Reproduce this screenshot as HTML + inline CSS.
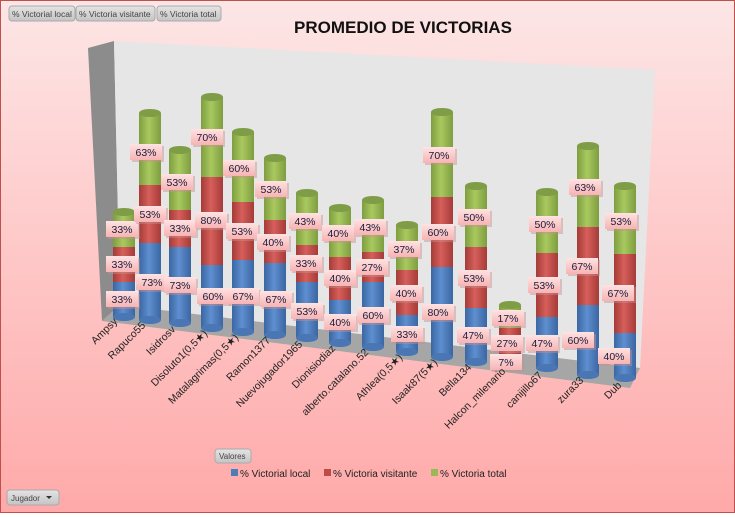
<!DOCTYPE html>
<html><head><meta charset="utf-8"><style>
html,body{margin:0;padding:0}
body{width:735px;height:513px;overflow:hidden;font-family:"Liberation Sans",sans-serif}
</style></head><body>
<svg width="735" height="513" viewBox="0 0 735 513" xmlns="http://www.w3.org/2000/svg" font-family="Liberation Sans, sans-serif">
<defs>
<linearGradient id="bg" x1="0" y1="0" x2="0" y2="1"><stop offset="0" stop-color="#fde6e6"/><stop offset="1" stop-color="#ffa9a9"/></linearGradient>
<linearGradient id="gb" x1="0" x2="1"><stop offset="0" stop-color="#3a66a2"/><stop offset="0.45" stop-color="#5f8fd0"/><stop offset="1" stop-color="#3a66a2"/></linearGradient>
<linearGradient id="gr" x1="0" x2="1"><stop offset="0" stop-color="#a53b38"/><stop offset="0.45" stop-color="#d65f5b"/><stop offset="1" stop-color="#a53b38"/></linearGradient>
<linearGradient id="gg" x1="0" x2="1"><stop offset="0" stop-color="#7e9d40"/><stop offset="0.45" stop-color="#a9c95f"/><stop offset="1" stop-color="#7e9d40"/></linearGradient>
<linearGradient id="lb" x1="0" y1="0" x2="0" y2="1"><stop offset="0" stop-color="#ffe2e2"/><stop offset="1" stop-color="#f7b3b3"/></linearGradient>
<linearGradient id="btn" x1="0" y1="0" x2="0" y2="1"><stop offset="0" stop-color="#e4e4e4"/><stop offset="1" stop-color="#c4c4c4"/></linearGradient>
<g id="lbl"><rect x="-14" y="-6" width="32" height="16" fill="#c89090" opacity="0.45"/><rect x="-16" y="-8" width="32" height="16" fill="url(#lb)"/></g>
</defs>
<rect x="0" y="0" width="735" height="513" fill="url(#bg)" stroke="#c0504d" stroke-width="2"/>
<!-- buttons -->
<g font-size="8.5" fill="#444">
<rect x="9" y="6" width="66" height="15" rx="3" fill="url(#btn)" stroke="#aaa"/><text x="12" y="17">% Victorial local</text>
<rect x="76" y="6" width="79" height="15" rx="3" fill="url(#btn)" stroke="#aaa"/><text x="79" y="17">% Victoria visitante</text>
<rect x="157" y="6" width="64" height="15" rx="3" fill="url(#btn)" stroke="#aaa"/><text x="160" y="17">% Victoria total</text>
<rect x="215" y="449" width="36" height="14" rx="3" fill="url(#btn)" stroke="#aaa"/><text x="219" y="459" font-size="8">Valores</text>
<rect x="7" y="490" width="52" height="15" rx="3" fill="url(#btn)" stroke="#aaa"/><text x="11" y="501" font-size="8">Jugador</text><path d="M46 496 L52 496 L49 499 Z" fill="#333"/>
</g>
<text x="403" y="33" font-size="17" font-weight="bold" text-anchor="middle" fill="#111">PROMEDIO DE VICTORIAS</text>
<!-- walls -->
<polygon points="88,48 114,41 120,305 102,321" fill="#8c8c8c"/>
<polygon points="114,41 655,70 640,368 120,305" fill="#e6e6e6"/>
<polygon points="120,305 640,368 630,388 102,321" fill="#a6a6a6"/>
<!-- bars -->
<g id="bars">
<g transform="translate(124,0)"><rect x="-11" y="282" width="22" height="35" fill="url(#gb)"/><ellipse cy="317" rx="11" ry="4" fill="#4a76b3"/><rect x="-11" y="247" width="22" height="35" fill="url(#gr)"/><rect x="-11" y="212" width="22" height="35" fill="url(#gg)"/><ellipse cy="212" rx="11" ry="4" fill="#7f9c46"/></g>
<g transform="translate(150,0)"><rect x="-11" y="243" width="22" height="77" fill="url(#gb)"/><ellipse cy="320" rx="11" ry="4" fill="#4a76b3"/><rect x="-11" y="185" width="22" height="58" fill="url(#gr)"/><rect x="-11" y="113" width="22" height="72" fill="url(#gg)"/><ellipse cy="113" rx="11" ry="4" fill="#7f9c46"/></g>
<g transform="translate(180,0)"><rect x="-11" y="247" width="22" height="76" fill="url(#gb)"/><ellipse cy="323" rx="11" ry="4" fill="#4a76b3"/><rect x="-11" y="210" width="22" height="37" fill="url(#gr)"/><rect x="-11" y="150" width="22" height="60" fill="url(#gg)"/><ellipse cy="150" rx="11" ry="4" fill="#7f9c46"/></g>
<g transform="translate(212,0)"><rect x="-11" y="265" width="22" height="63" fill="url(#gb)"/><ellipse cy="328" rx="11" ry="4" fill="#4a76b3"/><rect x="-11" y="177" width="22" height="88" fill="url(#gr)"/><rect x="-11" y="97" width="22" height="80" fill="url(#gg)"/><ellipse cy="97" rx="11" ry="4" fill="#7f9c46"/></g>
<g transform="translate(243,0)"><rect x="-11" y="260" width="22" height="72" fill="url(#gb)"/><ellipse cy="332" rx="11" ry="4" fill="#4a76b3"/><rect x="-11" y="202" width="22" height="58" fill="url(#gr)"/><rect x="-11" y="132" width="22" height="70" fill="url(#gg)"/><ellipse cy="132" rx="11" ry="4" fill="#7f9c46"/></g>
<g transform="translate(275,0)"><rect x="-11" y="263" width="22" height="72" fill="url(#gb)"/><ellipse cy="335" rx="11" ry="4" fill="#4a76b3"/><rect x="-11" y="220" width="22" height="43" fill="url(#gr)"/><rect x="-11" y="158" width="22" height="62" fill="url(#gg)"/><ellipse cy="158" rx="11" ry="4" fill="#7f9c46"/></g>
<g transform="translate(307,0)"><rect x="-11" y="282" width="22" height="56" fill="url(#gb)"/><ellipse cy="338" rx="11" ry="4" fill="#4a76b3"/><rect x="-11" y="245" width="22" height="37" fill="url(#gr)"/><rect x="-11" y="193" width="22" height="52" fill="url(#gg)"/><ellipse cy="193" rx="11" ry="4" fill="#7f9c46"/></g>
<g transform="translate(340,0)"><rect x="-11" y="300" width="22" height="43" fill="url(#gb)"/><ellipse cy="343" rx="11" ry="4" fill="#4a76b3"/><rect x="-11" y="257" width="22" height="43" fill="url(#gr)"/><rect x="-11" y="208" width="22" height="49" fill="url(#gg)"/><ellipse cy="208" rx="11" ry="4" fill="#7f9c46"/></g>
<g transform="translate(373,0)"><rect x="-11" y="282" width="22" height="65" fill="url(#gb)"/><ellipse cy="347" rx="11" ry="4" fill="#4a76b3"/><rect x="-11" y="252" width="22" height="30" fill="url(#gr)"/><rect x="-11" y="200" width="22" height="52" fill="url(#gg)"/><ellipse cy="200" rx="11" ry="4" fill="#7f9c46"/></g>
<g transform="translate(407,0)"><rect x="-11" y="315" width="22" height="37" fill="url(#gb)"/><ellipse cy="352" rx="11" ry="4" fill="#4a76b3"/><rect x="-11" y="270" width="22" height="45" fill="url(#gr)"/><rect x="-11" y="225" width="22" height="45" fill="url(#gg)"/><ellipse cy="225" rx="11" ry="4" fill="#7f9c46"/></g>
<g transform="translate(442,0)"><rect x="-11" y="267" width="22" height="90" fill="url(#gb)"/><ellipse cy="357" rx="11" ry="4" fill="#4a76b3"/><rect x="-11" y="197" width="22" height="70" fill="url(#gr)"/><rect x="-11" y="112" width="22" height="85" fill="url(#gg)"/><ellipse cy="112" rx="11" ry="4" fill="#7f9c46"/></g>
<g transform="translate(476,0)"><rect x="-11" y="308" width="22" height="54" fill="url(#gb)"/><ellipse cy="362" rx="11" ry="4" fill="#4a76b3"/><rect x="-11" y="247" width="22" height="61" fill="url(#gr)"/><rect x="-11" y="186" width="22" height="61" fill="url(#gg)"/><ellipse cy="186" rx="11" ry="4" fill="#7f9c46"/></g>
<g transform="translate(510,0)"><rect x="-11" y="358" width="22" height="7" fill="url(#gb)"/><ellipse cy="365" rx="11" ry="4" fill="#4a76b3"/><rect x="-11" y="328" width="22" height="30" fill="url(#gr)"/><rect x="-11" y="305" width="22" height="23" fill="url(#gg)"/><ellipse cy="305" rx="11" ry="4" fill="#7f9c46"/></g>
<g transform="translate(547,0)"><rect x="-11" y="317" width="22" height="51" fill="url(#gb)"/><ellipse cy="368" rx="11" ry="4" fill="#4a76b3"/><rect x="-11" y="253" width="22" height="64" fill="url(#gr)"/><rect x="-11" y="192" width="22" height="61" fill="url(#gg)"/><ellipse cy="192" rx="11" ry="4" fill="#7f9c46"/></g>
<g transform="translate(588,0)"><rect x="-11" y="305" width="22" height="70" fill="url(#gb)"/><ellipse cy="375" rx="11" ry="4" fill="#4a76b3"/><rect x="-11" y="227" width="22" height="78" fill="url(#gr)"/><rect x="-11" y="146" width="22" height="81" fill="url(#gg)"/><ellipse cy="146" rx="11" ry="4" fill="#7f9c46"/></g>
<g transform="translate(625,0)"><rect x="-11" y="333" width="22" height="45" fill="url(#gb)"/><ellipse cy="378" rx="11" ry="4" fill="#4a76b3"/><rect x="-11" y="254" width="22" height="79" fill="url(#gr)"/><rect x="-11" y="186" width="22" height="68" fill="url(#gg)"/><ellipse cy="186" rx="11" ry="4" fill="#7f9c46"/></g>
</g>
<!-- labels -->
<g font-size="10.5" fill="#1a1a3a" text-anchor="middle">
<use href="#lbl" x="122" y="299"/><text x="122" y="303">33%</text><use href="#lbl" x="122" y="264"/><text x="122" y="268">33%</text><use href="#lbl" x="122" y="229"/><text x="122" y="233">33%</text>
<use href="#lbl" x="152" y="282"/><text x="152" y="286">73%</text><use href="#lbl" x="150" y="214"/><text x="150" y="218">53%</text><use href="#lbl" x="146" y="152"/><text x="146" y="156">63%</text>
<use href="#lbl" x="180" y="285"/><text x="180" y="289">73%</text><use href="#lbl" x="180" y="228"/><text x="180" y="232">33%</text><use href="#lbl" x="177" y="182"/><text x="177" y="186">53%</text>
<use href="#lbl" x="213" y="296"/><text x="213" y="300">60%</text><use href="#lbl" x="211" y="220"/><text x="211" y="224">80%</text><use href="#lbl" x="207" y="137"/><text x="207" y="141">70%</text>
<use href="#lbl" x="243" y="296"/><text x="243" y="300">67%</text><use href="#lbl" x="242" y="231"/><text x="242" y="235">53%</text><use href="#lbl" x="239" y="168"/><text x="239" y="172">60%</text>
<use href="#lbl" x="276" y="299"/><text x="276" y="303">67%</text><use href="#lbl" x="273" y="242"/><text x="273" y="246">40%</text><use href="#lbl" x="271" y="189"/><text x="271" y="193">53%</text>
<use href="#lbl" x="307" y="311"/><text x="307" y="315">53%</text><use href="#lbl" x="306" y="263"/><text x="306" y="267">33%</text><use href="#lbl" x="305" y="221"/><text x="305" y="225">43%</text>
<use href="#lbl" x="340" y="322"/><text x="340" y="326">40%</text><use href="#lbl" x="340" y="278"/><text x="340" y="282">40%</text><use href="#lbl" x="338" y="233"/><text x="338" y="237">40%</text>
<use href="#lbl" x="373" y="315"/><text x="373" y="319">60%</text><use href="#lbl" x="372" y="267"/><text x="372" y="271">27%</text><use href="#lbl" x="370" y="227"/><text x="370" y="231">43%</text>
<use href="#lbl" x="407" y="334"/><text x="407" y="338">33%</text><use href="#lbl" x="406" y="293"/><text x="406" y="297">40%</text><use href="#lbl" x="404" y="249"/><text x="404" y="253">37%</text>
<use href="#lbl" x="438" y="312"/><text x="438" y="316">80%</text><use href="#lbl" x="438" y="232"/><text x="438" y="236">60%</text><use href="#lbl" x="439" y="155"/><text x="439" y="159">70%</text>
<use href="#lbl" x="473" y="335"/><text x="473" y="339">47%</text><use href="#lbl" x="474" y="278"/><text x="474" y="282">53%</text><use href="#lbl" x="474" y="217"/><text x="474" y="221">50%</text>
<use href="#lbl" x="506" y="362"/><text x="506" y="366">7%</text><use href="#lbl" x="507" y="343"/><text x="507" y="347">27%</text><use href="#lbl" x="508" y="318"/><text x="508" y="322">17%</text>
<use href="#lbl" x="542" y="343"/><text x="542" y="347">47%</text><use href="#lbl" x="544" y="285"/><text x="544" y="289">53%</text><use href="#lbl" x="545" y="224"/><text x="545" y="228">50%</text>
<use href="#lbl" x="578" y="340"/><text x="578" y="344">60%</text><use href="#lbl" x="582" y="266"/><text x="582" y="270">67%</text><use href="#lbl" x="585" y="187"/><text x="585" y="191">63%</text>
<use href="#lbl" x="614" y="356"/><text x="614" y="360">40%</text><use href="#lbl" x="618" y="293"/><text x="618" y="297">67%</text><use href="#lbl" x="621" y="221"/><text x="621" y="225">53%</text>
</g>
<!-- axis labels -->
<g font-size="10.5" fill="#222" text-anchor="end">
<text transform="translate(118,322) rotate(-45)">Ampsy</text>
<text transform="translate(146,326) rotate(-45)">Rapuco55</text>
<text transform="translate(176,330) rotate(-45)">Isidrosv</text>
<text transform="translate(208,334) rotate(-45)">Disoluto1(0,5★)</text>
<text transform="translate(239,338) rotate(-45)">Matalagrimas(0,5★)</text>
<text transform="translate(271,341) rotate(-45)">Ramon1377</text>
<text transform="translate(303,345) rotate(-45)">Nuevojugador1965</text>
<text transform="translate(336,349) rotate(-45)">Dionisiodiaz</text>
<text transform="translate(369,353) rotate(-45)">alberto.catalano.52</text>
<text transform="translate(403,358) rotate(-45)">Athlea(0,5★)</text>
<text transform="translate(438,363) rotate(-45)">Isaak87(5★)</text>
<text transform="translate(472,368) rotate(-45)">Bella134</text>
<text transform="translate(506,372) rotate(-45)">Halcon_milenario</text>
<text transform="translate(543,376) rotate(-45)">canijillo67</text>
<text transform="translate(584,381) rotate(-45)">zura33</text>
<text transform="translate(622,386) rotate(-45)">Dub</text>
</g>
<!-- legend -->
<g font-size="10" fill="#222">
<rect x="231" y="469" width="7" height="7" fill="#4a7ebb"/><text x="240" y="477">% Victorial local</text>
<rect x="324" y="469" width="7" height="7" fill="#be4b48"/><text x="333" y="477">% Victoria visitante</text>
<rect x="431" y="469" width="7" height="7" fill="#98b954"/><text x="440" y="477">% Victoria total</text>
</g>
</svg>
</body></html>
